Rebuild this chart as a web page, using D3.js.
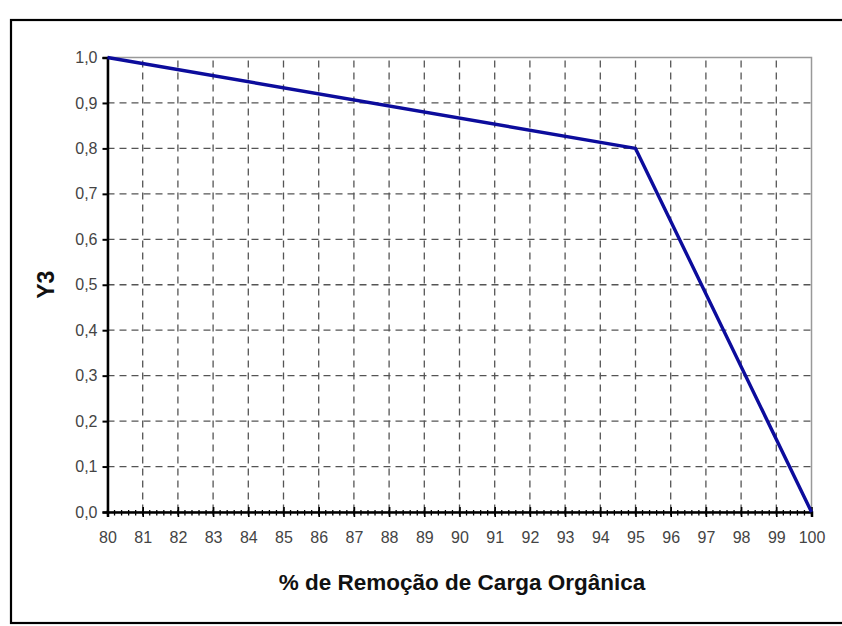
<!DOCTYPE html>
<html><head><meta charset="utf-8">
<script src="https://cdn.jsdelivr.net/npm/d3@7"></script>
<style>body{margin:0;background:#fff;} svg{display:block;}</style>
</head><body>
<svg id="c" width="842" height="626"></svg>
<script>
const xValues = [80, 95, 100];
const yValues = [1.0, 0.8, 0.0];
const xTicks = d3.range(80, 101, 1);
const yTicks = [0, 0.1, 0.2, 0.3, 0.4, 0.5, 0.6, 0.7, 0.8, 0.9, 1.0];
const xTitle = "% de Remoção de Carga Orgânica";
const yTitle = "Y3";

const svg = d3.select("#c");
const m = {l: 107.5, r: 811.5, t: 57.5, b: 512};
const x = d3.scaleLinear().domain([80, 100]).range([m.l, m.r]);
const y = d3.scaleLinear().domain([0, 1]).range([m.b, m.t]);
const fmt = d => d.toFixed(1).replace(".", ",");
const font = "Liberation Sans, Arial, sans-serif";

// outer frame
svg.append("rect").attr("x", 11).attr("y", 20).attr("width", 845).attr("height", 603)
  .attr("fill", "none").attr("stroke", "#000").attr("stroke-width", 2.2);

// plot border
svg.append("rect").attr("x", m.l).attr("y", m.t).attr("width", m.r - m.l).attr("height", m.b - m.t)
  .attr("fill", "#fff").attr("stroke", "#999").attr("stroke-width", 1.5);

// gridlines
const g = svg.append("g");
g.selectAll(".gy").data(yTicks.filter(d => d > 0 && d < 1)).join("line")
  .attr("x1", m.l).attr("x2", m.r).attr("y1", d => y(d)).attr("y2", d => y(d))
  .attr("stroke", "#555").attr("stroke-width", 1.3).attr("stroke-dasharray", "7,5");
g.selectAll(".gx").data(xTicks.filter(d => d > 80 && d < 100)).join("line")
  .attr("x1", d => x(d)).attr("x2", d => x(d)).attr("y1", m.t).attr("y2", m.b)
  .attr("stroke", "#555").attr("stroke-width", 1.3).attr("stroke-dasharray", "7,5").attr("stroke-dashoffset", -3);

// y axis
const ya = svg.append("g").attr("transform", `translate(${m.l},0)`)
  .call(d3.axisLeft(y).tickValues(yTicks).tickFormat(fmt).tickSize(5).tickPadding(5));
ya.select(".domain").attr("stroke", "#000").attr("stroke-width", 2.5);
ya.selectAll(".tick line").attr("stroke", "#000").attr("stroke-width", 2);
ya.selectAll(".tick text").attr("font-family", font)
  .attr("font-size", 16).attr("fill", "#444");

// x minor ticks
const minor = d3.range(80, 100.001, 0.2);
svg.append("g").selectAll("line").data(minor).join("line")
  .attr("x1", d => x(d)).attr("x2", d => x(d)).attr("y1", m.b - 2).attr("y2", m.b + 3.5)
  .attr("stroke", "#000").attr("stroke-width", 1.3);

// x axis
const xa = svg.append("g").attr("transform", `translate(0,${m.b})`)
  .call(d3.axisBottom(x).tickValues(xTicks).tickFormat(d3.format("d")).tickSize(5).tickPadding(15));
xa.select(".domain").attr("stroke", "#000").attr("stroke-width", 2.5);
xa.selectAll(".tick line").attr("stroke", "#000").attr("stroke-width", 1.6).attr("y1", -5);
xa.selectAll(".tick text").attr("font-family", font)
  .attr("font-size", 16).attr("fill", "#444");

// data line
const pts = xValues.map((v, i) => [v, yValues[i]]);
svg.append("path").datum(pts)
  .attr("d", d3.line().x(d => x(d[0])).y(d => y(d[1])))
  .attr("fill", "none").attr("stroke", "#0c0c9c").attr("stroke-width", 3.4).attr("stroke-linejoin", "round");

// titles
svg.append("text").attr("x", 462).attr("y", 590).attr("text-anchor", "middle")
  .attr("font-family", font).attr("font-weight", "bold")
  .attr("font-size", 22.5).attr("fill", "#111").text(xTitle);
svg.append("text").attr("transform", `translate(54,${(m.t + m.b) / 2}) rotate(-90)`).attr("text-anchor", "middle")
  .attr("font-family", font).attr("font-weight", "bold")
  .attr("font-size", 23).attr("fill", "#111").text(yTitle);
</script>
</body></html>
